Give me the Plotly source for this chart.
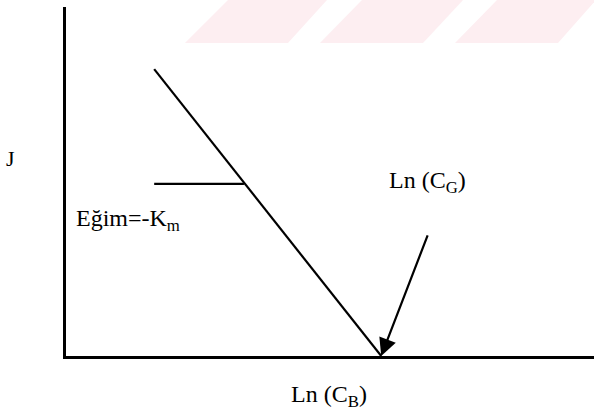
import plotly.graph_objects as go

# Linear relation J vs Ln(C_B): falls from the upper left down to Ln(C_G) on the axis
line_x = [16.7, 59.7]
line_y = [82.2, 0.0]

# Short horizontal guide marking the slope
slope_x = [16.7, 33.7]
slope_y = [49.3, 49.3]

# Arrow pointing at the intercept Ln(C_G)
arrow_tail = (68.6, 35.0)
arrow_tip = (59.7, 0.0)

W, H = 594, 412
SERIF = "Liberation Serif, Times New Roman, serif"


def px(x):
    return x / W


def py(y):
    return 1 - y / H


fig = go.Figure()
fig.add_trace(go.Scatter(x=line_x, y=line_y, mode="lines",
                         line=dict(color="black", width=2.2), hoverinfo="skip"))
fig.add_trace(go.Scatter(x=slope_x, y=slope_y, mode="lines",
                         line=dict(color="black", width=2.2), hoverinfo="skip"))

# Pale striped banner along the top
stripes = [
    [(185, 43), (228, 0), (327, 0), (288, 43)],
    [(320, 43), (362, 0), (463, 0), (423, 43)],
    [(455, 43), (497, 0), (596, 0), (558, 43)],
]
shapes = []
for pts in stripes:
    path = "M " + " L ".join(f"{px(x):.4f},{py(y):.4f}" for x, y in pts) + " Z"
    shapes.append(dict(type="path", xref="paper", yref="paper", path=path,
                       fillcolor="#fdeef1", line=dict(width=0), layer="below"))


def label(x, y, text, size=24, anchor="center"):
    return dict(x=px(x), y=py(y), xref="paper", yref="paper",
                xanchor=anchor, yanchor="middle", text=text, showarrow=False,
                font=dict(family=SERIF, size=size, color="black"))


annotations = [
    dict(x=arrow_tip[0], y=arrow_tip[1], ax=arrow_tail[0], ay=arrow_tail[1],
         xref="x", yref="y", axref="x", ayref="y", text="", showarrow=True,
         arrowhead=2, arrowsize=1.6, arrowwidth=2.2, arrowcolor="black",
         standoff=0),
    label(427, 182, "Ln (C<sub>G</sub>)"),
    label(74, 220, "Eğim=-K<sub>m</sub>", anchor="left"),
    label(329, 396, "Ln (C<sub>B</sub>)"),
    label(10, 159, "J", size=22),
]

fig.update_layout(
    width=W, height=H, margin=dict(l=0, r=0, t=0, b=0),
    paper_bgcolor="white", plot_bgcolor="white", showlegend=False,
    shapes=shapes, annotations=annotations,
    xaxis=dict(domain=[px(66), 1.0], range=[0, 100], showgrid=False,
               zeroline=False, showticklabels=False, ticks="",
               showline=True, linecolor="black", linewidth=2.5),
    yaxis=dict(domain=[py(356), py(7)], range=[0, 100], showgrid=False,
               zeroline=False, showticklabels=False, ticks="",
               showline=True, linecolor="black", linewidth=2.5),
)

fig.write_html("out.html")
